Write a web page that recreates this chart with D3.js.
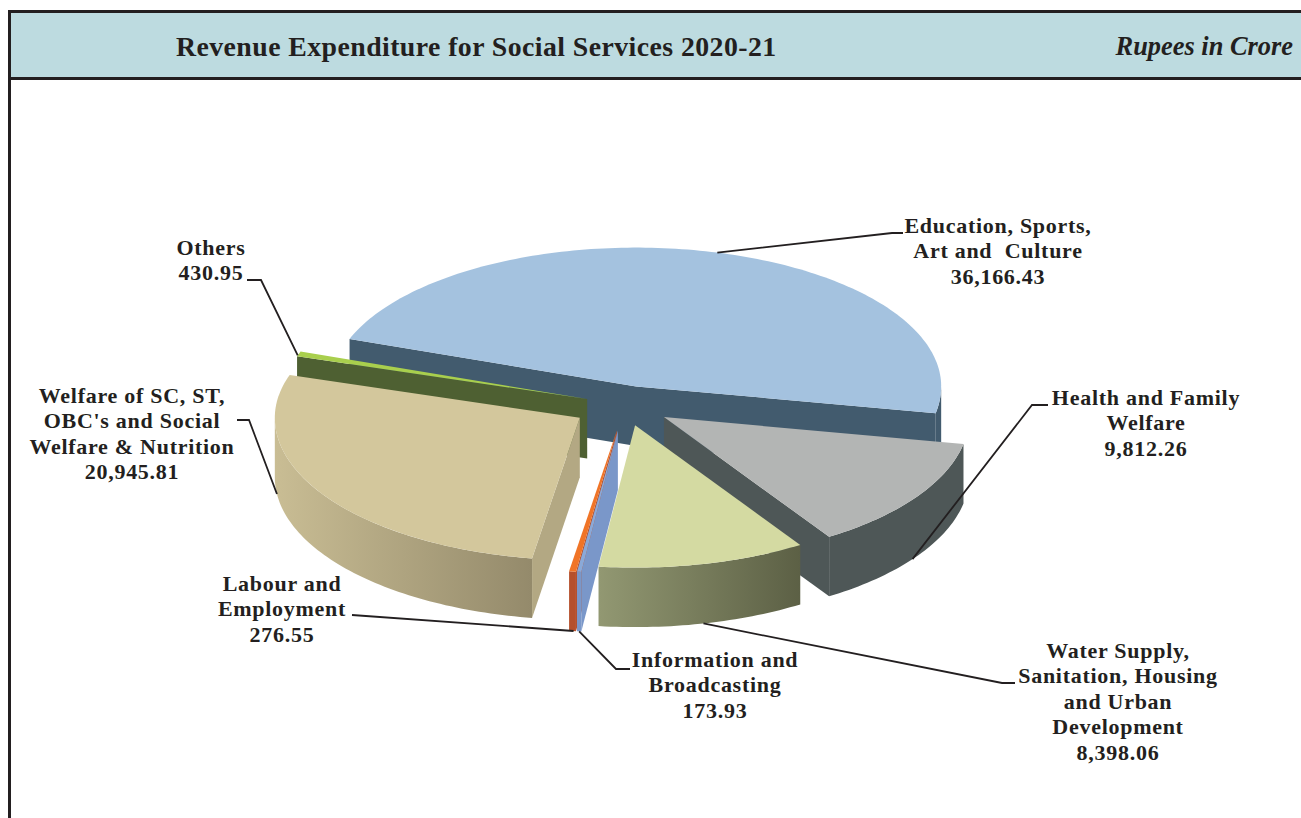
<!DOCTYPE html>
<html>
<head>
<meta charset="utf-8">
<script src="https://cdnjs.cloudflare.com/ajax/libs/d3/7.8.5/d3.min.js"></script>
<style>
html,body{margin:0;padding:0;background:#fff;overflow:hidden}
svg{display:block}
text{font-family:"Liberation Serif",serif;font-weight:bold;fill:#231f20}
</style>
</head>
<body>
<svg id="chart" width="1301" height="818"></svg>
<script>
// ---- data ----
const titleText = "Revenue Expenditure for Social Services 2020-21";
const unitText = "Rupees in Crore";
const categories = ["Education, Sports, Art and Culture","Health and Family Welfare","Water Supply, Sanitation, Housing and Urban Development","Information and Broadcasting","Labour and Employment","Welfare of SC, ST, OBC's and Social Welfare & Nutrition","Others"];
const values = [36166.43, 9812.26, 8398.06, 173.93, 276.55, 20945.81, 430.95];
const labelLines = [
  ["Education, Sports,","Art and  Culture"],
  ["Health and Family","Welfare"],
  ["Water Supply,","Sanitation, Housing","and Urban","Development"],
  ["Information and","Broadcasting"],
  ["Labour and","Employment"],
  ["Welfare of SC, ST,","OBC's and Social","Welfare & Nutrition"],
  ["Others"]
];

// ---- style and layout ----
const topColors  = ["#a4c2df","#b3b5b4","#d4daa2","#8aa9d8","#f07427","#d3c79c","#a9cf4d"];
const faceColors = ["#425b6e","#4e5757","#5c6045","#7a97c9","#b5502c","#b3a883","#4e6032"];
const wallStops  = [["#425b6e","#425b6e"],["#4e5757","#4e5757"],["#929872","#5c6045"],["#7a97c9","#7a97c9"],["#b5502c","#b5502c"],["#c9bd94","#948a6b"],["#4e6032","#4e6032"]];
const explodePx  = [42,47,45,56,56,53,40];
const drawOrder  = [0,6,1,2,4,3,5];
const R = 305, DEPTH = 59.5, CX = 625, CY = 405;
const K_BACK = 0.455, K_FRONT = 0.467, K = 0.46;
const START_DEG = -70;
const lineH = 25.4;
const labelCentre = [[998,233],[1146,405],[1118,658],[715,667],[282,591],[132,403],[211,255]];
const leaderElbow = [
  [[892,233],[903,233]],
  [[1032,405],[1048,405]],
  [[1002,683],[1015,683]],
  [[616,669],[630,669]],
  [[352,615]],
  [[249,420],[237,420]],
  [[261,280],[247,280]]
];
// position along the slice's rim (0..1) and whether at the base of the wall
const leaderAnchor = [[0.5,0],[0.53,1],[0.5,1],[0.5,1],[0.35,1],[0.75,1],[0.2,0]];

const svg = d3.select("#chart");
const defs = svg.append("defs");

const pie = d3.pie().sort(null)
  .startAngle(START_DEG*Math.PI/180)
  .endAngle((START_DEG+360)*Math.PI/180);
const arcs = pie(values);

const px = d3.scaleLinear().domain([-1,1]).range([-R,R]);
const py = d3.scaleLinear().domain([-1,0,1]).range([-R*K_FRONT,0,R*K_BACK]);

function tip(i){
  const a = arcs[i], m = (a.startAngle+a.endAngle)/2, d = explodePx[i];
  return [CX + Math.sin(m)*d, CY - Math.cos(m)*K*d];
}
function rim(i,ang,dz){
  const t = tip(i);
  return [t[0]+px(Math.sin(ang)), t[1]-py(Math.cos(ang))+dz];
}
function samples(a0,a1){
  const n = Math.max(2,Math.ceil(Math.abs(a1-a0)/0.02));
  return d3.range(n+1).map(k=>a0+(a1-a0)*k/n);
}
const line = d3.line();

// header
svg.append("rect").attr("x",9).attr("y",11).attr("width",1292).attr("height",67).attr("fill","#bddbe0");
const frame = svg.append("g").attr("stroke","#231f20").attr("stroke-width",3).attr("fill","none");
frame.append("path").attr("d",line([[9.5,818],[9.5,11.5],[1301,11.5]]));
frame.append("path").attr("d",line([[9.5,78.5],[1301,78.5]]));
svg.append("text").attr("x",176).attr("y",56).attr("font-size",27.8).attr("letter-spacing",0.43).text(titleText);
svg.append("text").attr("x",1293).attr("y",55).attr("text-anchor","end").attr("font-size",26.4)
  .attr("font-style","italic").text(unitText);

// slices
const g = svg.append("g");
drawOrder.forEach(i=>{
  const a = arcs[i], t = tip(i), slice = g.append("g");
  const tb = [t[0],t[1]+DEPTH];
  const startOn = Math.sin(a.startAngle) < 0, endOn = Math.sin(a.endAngle) > 0;
  const e0 = rim(i,a.startAngle,0), e1 = rim(i,a.endAngle,0);
  const faces = [];
  if(startOn && endOn){
    faces.push([e0,t,e1,[e1[0],e1[1]+DEPTH],tb,[e0[0],e0[1]+DEPTH]]);
  } else if(startOn){
    faces.push([t,e0,[e0[0],e0[1]+DEPTH],tb]);
  } else if(endOn){
    faces.push([t,e1,[e1[0],e1[1]+DEPTH],tb]);
  }
  faces.forEach(f=>slice.append("path").attr("fill",faceColors[i]).attr("d",line(f)+"Z"));
  const lo = Math.max(a.startAngle,Math.PI/2), hi = Math.min(a.endAngle,Math.PI*1.5);
  if(hi>lo){
    const id = "wall"+i;
    const grad = defs.append("linearGradient").attr("id",id);
    grad.append("stop").attr("offset","0").attr("stop-color",wallStops[i][0]);
    grad.append("stop").attr("offset","1").attr("stop-color",wallStops[i][1]);
    const s = samples(lo,hi);
    const pts = s.map(x=>rim(i,x,0)).concat(s.slice().reverse().map(x=>rim(i,x,DEPTH)));
    slice.append("path").attr("fill",`url(#${id})`).attr("d",line(pts)+"Z");
  }
  const top = [t].concat(samples(a.startAngle,a.endAngle).map(x=>rim(i,x,0)));
  slice.append("path").attr("fill",topColors[i]).attr("d",line(top)+"Z");
});

// leaders and labels
const fmt = d3.format(",.2f");
const leaders = svg.append("g").attr("fill","none").attr("stroke","#231f20").attr("stroke-width",1.8);
const labels = svg.append("g").attr("font-size",22).attr("letter-spacing",0.72).attr("text-anchor","middle");
categories.forEach((c,i)=>{
  const a = arcs[i];
  const ang = a.startAngle+(a.endAngle-a.startAngle)*leaderAnchor[i][0];
  const st = rim(i,ang,leaderAnchor[i][1]*DEPTH);
  leaders.append("path").attr("d",line([st].concat(leaderElbow[i])));
  const [x,y] = labelCentre[i];
  labelLines[i].concat([fmt(values[i])]).forEach((s,j)=>{
    labels.append("text").attr("x",x).attr("y",y+j*lineH).attr("xml:space","preserve").text(s);
  });
});
</script>
</body>
</html>
